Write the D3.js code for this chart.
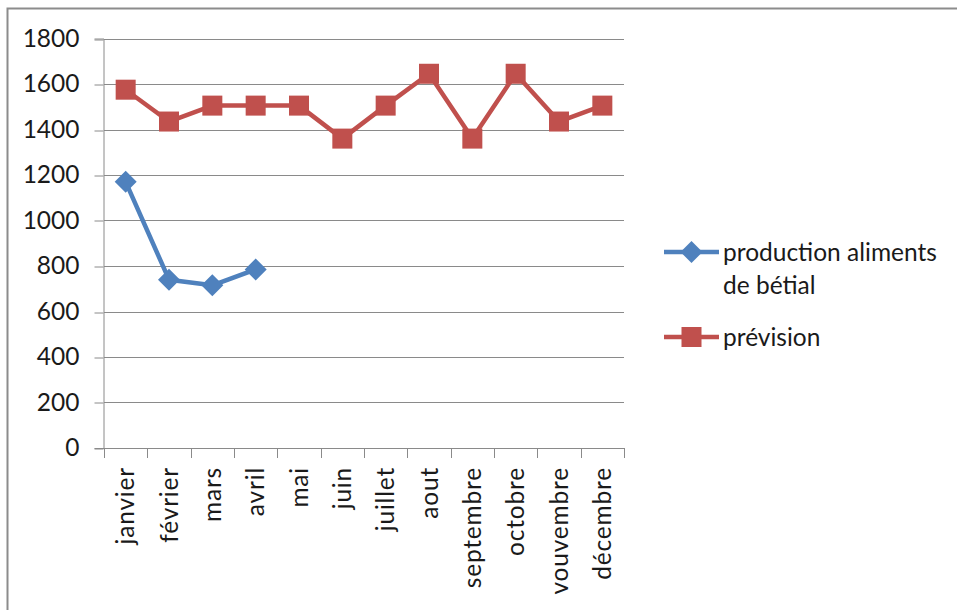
<!DOCTYPE html>
<html>
<head>
<meta charset="utf-8">
<script src="https://cdn.jsdelivr.net/npm/d3@7/dist/d3.min.js"></script>
<style>
  html, body { margin: 0; padding: 0; background: #fff; }
  svg text { font-family: Lato, "Open Sans", sans-serif; fill: #1a1a1a; }
</style>
</head>
<body>
<svg id="chart" width="957" height="610"></svg>
<script>
// Monthly categories
const months = ["janvier", "février", "mars", "avril", "mai", "juin", "juillet",
                "aout", "septembre", "octobre", "vouvembre", "décembre"];
// Livestock feed production (only first four months recorded)
const production = [1170, 740, 715, 785];
// Forecast
const prevision = [1575, 1435, 1505, 1505, 1505, 1360, 1505, 1645, 1360, 1645, 1435, 1505];
const yTicks = [0, 200, 400, 600, 800, 1000, 1200, 1400, 1600, 1800];
const seriesNames = ["production aliments de bétial", "prévision"];

const FS = 24.5;
const svg = d3.select("#chart");
const margin = { left: 104, top: 38.5, right: 624, bottom: 448 };

// Outer frame (top and left edges visible)
svg.append("path")
  .attr("d", "M7.5,610 L7.5,8.5 L957,8.5")
  .attr("fill", "none").attr("stroke", "#8c8c8c").attr("stroke-width", 2);

const x = d3.scaleBand().domain(months).range([margin.left, margin.right]);
const y = d3.scaleLinear().domain([0, 1800]).range([margin.bottom, margin.top]);

// Horizontal gridlines
svg.append("g").selectAll("line").data(yTicks.filter(d => d > 0)).join("line")
  .attr("x1", margin.left).attr("x2", margin.right)
  .attr("y1", d => Math.round(y(d)) + 0.5).attr("y2", d => Math.round(y(d)) + 0.5)
  .attr("stroke", "#8a8a8a").attr("stroke-width", 1);

// Y axis
const yAxis = d3.axisLeft(y).tickValues(yTicks).tickSize(9).tickPadding(15).tickFormat(d3.format("d"));
const gy = svg.append("g").attr("transform", `translate(${margin.left - 0.5},0)`).call(yAxis);
gy.select(".domain").attr("stroke", "#8a8a8a");
gy.selectAll(".tick line").attr("stroke", "#8a8a8a")
  .attr("transform", function(d) { return `translate(0,${Math.round(y(d)) + 0.5 - y(d)})`; });
gy.selectAll(".tick text").attr("font-size", FS).attr("fill", "#1a1a1a").attr("font-family", "Lato, sans-serif");

// X axis with ticks at category boundaries
const bounds = months.map(m => x(m)).concat([margin.right]);
const gx = svg.append("g");
gx.append("line").attr("x1", margin.left - 9).attr("x2", margin.right)
  .attr("y1", margin.bottom + 0.5).attr("y2", margin.bottom + 0.5).attr("stroke", "#8a8a8a");
gx.selectAll("line.tk").data(bounds).join("line").attr("class", "tk")
  .attr("x1", d => Math.round(d) + 0.5).attr("x2", d => Math.round(d) + 0.5)
  .attr("y1", margin.bottom).attr("y2", margin.bottom + 10).attr("stroke", "#8a8a8a");
gx.selectAll("text").data(months).join("text")
  .attr("transform", d => `translate(${x(d) + x.bandwidth() / 2 + 8.5},${margin.bottom + 19}) rotate(-90)`)
  .attr("text-anchor", "end")
  .attr("font-size", FS)
  .attr("letter-spacing", 0.8)
  .text(d => d);

const blue = "#4f81bd", red = "#c0504d";
const line = d3.line().x((d, i) => x(months[i]) + x.bandwidth() / 2).y(d => y(d));

// Forecast line + square markers
svg.append("path").datum(prevision).attr("d", line)
  .attr("fill", "none").attr("stroke", red).attr("stroke-width", 4.5).attr("stroke-linejoin", "round");
svg.append("g").selectAll("rect").data(prevision).join("rect")
  .attr("x", (d, i) => x(months[i]) + x.bandwidth() / 2 - 10)
  .attr("y", d => y(d) - 10)
  .attr("width", 20).attr("height", 20).attr("fill", red);

// Production line + diamond markers
svg.append("path").datum(production).attr("d", line)
  .attr("fill", "none").attr("stroke", blue).attr("stroke-width", 4.5).attr("stroke-linejoin", "round");
const diamond = "M0,-11 L11,0 L0,11 L-11,0 Z";
svg.append("g").selectAll("path").data(production).join("path")
  .attr("transform", (d, i) => `translate(${x(months[i]) + x.bandwidth() / 2},${y(d)})`)
  .attr("d", diamond).attr("fill", blue);

// Legend
const lg = svg.append("g");
lg.append("line").attr("x1", 664).attr("x2", 719).attr("y1", 252).attr("y2", 252)
  .attr("stroke", blue).attr("stroke-width", 4.5);
lg.append("path").attr("transform", "translate(691.5,252)").attr("d", diamond).attr("fill", blue);
const t1 = lg.append("text").attr("x", 723).attr("y", 261).attr("font-size", FS);
t1.append("tspan").attr("x", 723).text("production aliments");
t1.append("tspan").attr("x", 723).attr("dy", 33).text("de bétial");

lg.append("line").attr("x1", 664).attr("x2", 719).attr("y1", 337).attr("y2", 337)
  .attr("stroke", red).attr("stroke-width", 4.5);
lg.append("rect").attr("x", 681.5).attr("y", 327).attr("width", 20).attr("height", 20).attr("fill", red);
lg.append("text").attr("x", 723).attr("y", 346).attr("font-size", FS).text("prévision");
</script>
</body>
</html>
